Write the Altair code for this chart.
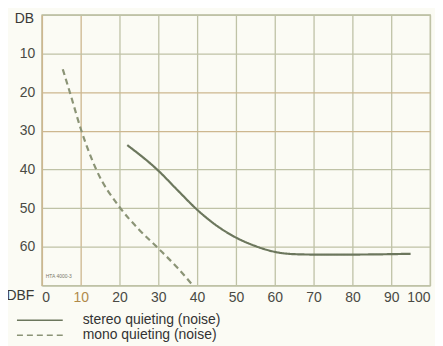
import altair as alt
import pandas as pd

# Data
stereo_dbf = [22, 30, 35, 40, 45, 50, 55, 60, 65, 70, 80, 95]
stereo_db = [33.7, 40.3, 45.4, 50.4, 54.5, 57.6, 59.8, 61.3, 61.9, 62.0, 62.0, 61.8]

mono_dbf = [5.4, 7.5, 10, 14, 20, 25, 30, 35, 38.5]
mono_db = [14.1, 21.0, 29.4, 40.0, 49.7, 55.5, 60.4, 65.5, 69.5]

series_names = ["stereo quieting (noise)", "mono quieting (noise)"]
x_ticks = [0, 10, 20, 30, 40, 50, 60, 70, 80, 90, 100]
y_ticks = [0, 10, 20, 30, 40, 50, 60, 70]

note_text = ["HTA 4000-3"]
note_x = [1.0]
note_y = [67.5]

rows = []
for x, y in zip(stereo_dbf, stereo_db):
    rows.append({"dbf": x, "db": y, "series": series_names[0]})
for x, y in zip(mono_dbf, mono_db):
    rows.append({"dbf": x, "db": y, "series": series_names[1]})
df = pd.DataFrame(rows)

FONT = "Liberation Sans"
GRID = "#bfc2a6"
TAN = "#cdb78f"
LABEL = "#4a4a44"

x_scale = alt.Scale(domain=[0, 100], nice=False, zero=False)
y_scale = alt.Scale(domain=[0, 70], reverse=True, nice=False, zero=False)

x_axis = alt.Axis(values=x_ticks, title="DBF", grid=True, labelOverlap=False,
                  gridColor={"condition": {"test": "datum.value == 10", "value": TAN}, "value": GRID},
                  gridWidth=1.3, domain=False, ticks=False,
                  labelPadding=5, labelFontSize=14,
                  labelColor={"condition": {"test": "datum.value == 10", "value": "#b08a4a"}, "value": LABEL},
                  labelFont=FONT,
                  titleFont=FONT, titleFontSize=14, titleFontWeight="normal", titleColor="#3a3a36",
                  titleX=-22, titleY=10, titleBaseline="middle", titleAlign="center")
y_axis = alt.Axis(values=y_ticks, title="DB", grid=True, labelOverlap=False,
                  gridColor={"condition": {"test": "datum.value == 20 || datum.value == 30", "value": TAN}, "value": GRID},
                  gridWidth=1.3, domain=True, domainColor=TAN, domainWidth=1.5,
                  ticks=False, labelPadding=7, labelFontSize=14, labelColor=LABEL,
                  labelFont=FONT,
                  labelExpr="(datum.value >= 10 && datum.value <= 60) ? datum.value : ''",
                  titleFont=FONT, titleFontSize=14, titleFontWeight="normal", titleColor="#3a3a36",
                  titleAngle=0, titleX=-18, titleY=4, titleBaseline="middle", titleAlign="center")

lines = alt.Chart(df).mark_line(strokeWidth=2.2, interpolate="monotone").encode(
    x=alt.X("dbf:Q", scale=x_scale, axis=x_axis),
    y=alt.Y("db:Q", scale=y_scale, axis=y_axis),
    color=alt.Color("series:N", sort=series_names,
                    scale=alt.Scale(domain=series_names, range=["#6c775d", "#8b9476"]),
                    legend=alt.Legend(title=None, orient="none", legendX=-9, legendY=300,
                                      direction="vertical", symbolType="M-9.2,0H9.2", symbolSize=25,
                                      symbolStrokeWidth=1.6, labelFont=FONT, labelFontSize=14,
                                      labelColor="#333333", labelOffset=36, rowPadding=1)),
    strokeDash=alt.StrokeDash("series:N", sort=series_names,
                              scale=alt.Scale(domain=series_names, range=[[1, 0], [6, 4]]),
                              legend=None),
)

note_df = pd.DataFrame({"t": note_text, "x": note_x, "y": note_y})
note = alt.Chart(note_df).mark_text(fontSize=5, font=FONT, color="#7a7a6a", align="left").encode(
    x=alt.X("x:Q", scale=x_scale, axis=x_axis),
    y=alt.Y("y:Q", scale=y_scale, axis=y_axis),
    text="t:N",
)

chart = alt.layer(lines, note).properties(
    width=390, height=272,
    background="#fbfbf4",
    padding={"left": 34, "top": 6, "right": 5, "bottom": 60},
    autosize=alt.AutoSizeParams(type="none"),
).configure_view(stroke=GRID, strokeWidth=1.3)

chart.save("out.html", embed_options={"renderer": "svg", "actions": False})
